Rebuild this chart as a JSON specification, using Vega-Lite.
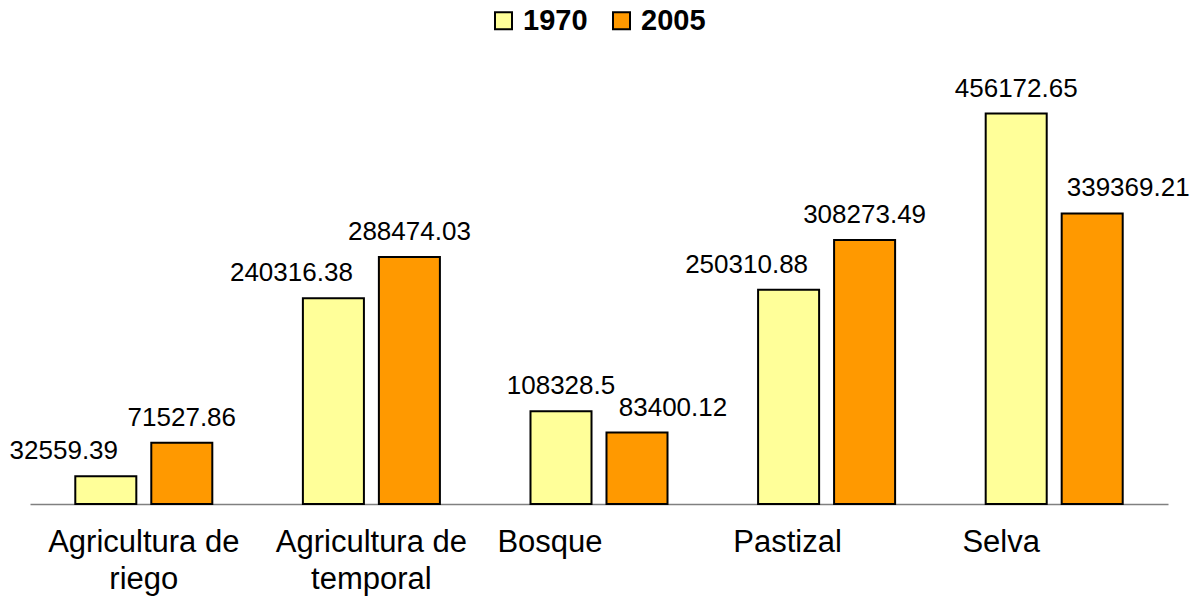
{
  "$schema": "https://vega.github.io/schema/vega-lite/v6.json",
  "width": 1138,
  "height": 428,
  "autosize": {"type": "none"},
  "padding": {"left": 30, "top": 76, "right": 24, "bottom": 96},
  "background": "white",
  "config": {
    "view": {"stroke": null},
    "font": "Liberation Sans"
  },
  "data": {
    "values": [
      {"cat": "Agricultura de riego", "year": "1970", "value": 32559.39},
      {"cat": "Agricultura de riego", "year": "2005", "value": 71527.86},
      {"cat": "Agricultura de temporal", "year": "1970", "value": 240316.38},
      {"cat": "Agricultura de temporal", "year": "2005", "value": 288474.03},
      {"cat": "Bosque", "year": "1970", "value": 108328.5},
      {"cat": "Bosque", "year": "2005", "value": 83400.12},
      {"cat": "Pastizal", "year": "1970", "value": 250310.88},
      {"cat": "Pastizal", "year": "2005", "value": 308273.49},
      {"cat": "Selva", "year": "1970", "value": 456172.65},
      {"cat": "Selva", "year": "2005", "value": 339369.21}
    ]
  },
  "encoding": {
    "x": {
      "field": "cat",
      "type": "nominal",
      "sort": null,
      "scale": {"paddingInner": 0.398, "paddingOuter": 0.199},
      "axis": {
        "title": null,
        "labelAngle": 0,
        "labelFontSize": 31,
        "labelColor": "black",
        "labelPadding": 23,
        "labelLineHeight": 37,
        "labelLimit": 400,
        "ticks": false,
        "domainColor": "#808080",
        "domainWidth": 1.5,
        "labelExpr": "indexof(datum.label, 'Agricultura') == 0 ? [slice(datum.label, 0, 14), slice(datum.label, 15)] : datum.label",
        "labelOffset": {"expr": "datum.label == 'Bosque' ? -49 : datum.label == 'Pastizal' ? -39 : datum.label == 'Selva' ? -53 : 0"}
      }
    },
    "xOffset": {
      "field": "year",
      "type": "nominal",
      "scale": {"paddingInner": 0.197, "paddingOuter": 0}
    },
    "y": {
      "field": "value",
      "type": "quantitative",
      "scale": {"domain": [0, 500000], "nice": false},
      "axis": null
    }
  },
  "layer": [
    {
      "mark": {"type": "bar", "stroke": "black", "strokeWidth": 2},
      "encoding": {
        "fill": {
          "field": "year",
          "type": "nominal",
          "scale": {"domain": ["1970", "2005"], "range": ["#FFFF99", "#FF9900"]},
          "legend": {
            "title": null,
            "orient": "none",
            "direction": "horizontal",
            "legendX": 459,
            "legendY": -70,
            "labelFontSize": 29,
            "labelFontWeight": "bold",
            "labelColor": "black",
            "symbolType": "square",
            "symbolSize": 289,
            "symbolStrokeColor": "black",
            "symbolStrokeWidth": 2,
            "labelOffset": 5,
            "columnPadding": 19
          }
        }
      }
    },
    {
      "transform": [
        {"joinaggregate": [{"op": "max", "field": "value", "as": "maxv"}], "groupby": ["cat"]}
      ],
      "mark": {
        "type": "text",
        "fontSize": 26,
        "color": "black",
        "baseline": "alphabetic",
        "dy": -17,
        "dx": {"expr": "datum.value < datum.maxv ? (datum.year == '1970' ? -42 : 36) : 0"}
      },
      "encoding": {
        "text": {"field": "value", "type": "nominal"}
      }
    }
  ]
}
